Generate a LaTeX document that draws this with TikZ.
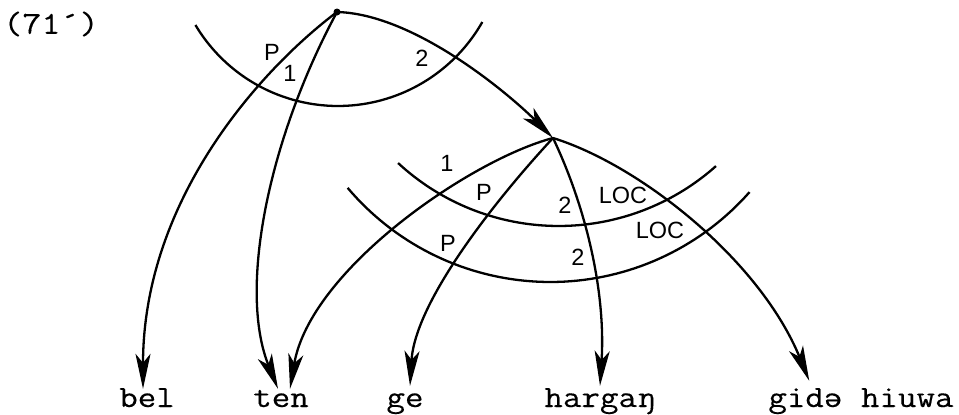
\documentclass[tikz,border=0pt]{standalone}
\usepackage{fontspec}
\setsansfont{Liberation Sans}
\newfontfamily\tw{Latin Modern Mono}[FakeStretch=1.16,FakeBold=0.3]
\usetikzlibrary{arrows.meta,calc}
\begin{document}
\begin{tikzpicture}[x=1pt,y=-1pt,line width=2.3pt,
  arr/.style={-{Stealth[length=35pt,width=15pt,inset=9pt]}},
  lab/.style={font=\sffamily\fontsize{23.5}{23.5}\selectfont,inner sep=0pt},
  word/.style={font=\tw\fontsize{31}{31}\selectfont,inner sep=0pt,anchor=base,text height=17pt,text depth=7pt},
  numlab/.style={font=\tw\fontsize{32}{32}\selectfont,inner sep=0pt}
]
\useasboundingbox (0,0) rectangle (959,415);

% example number
\node[numlab] (num) at (51,24) {(71´)};

% nodes
\node[circle,fill,inner sep=0pt,minimum size=7pt] (n1) at (337,12) {};
\coordinate (n2) at (553,138);

% words
\node[word] (bel) at (147,407) {bel};
\node[word] (ten) at (281,407) {ten};
\node[word] (ge) at (405,407) {ge};
\node[word] (hargan) at (600,407) {hargaŋ};
\node[word] (gida) at (861,407) {gidə hiuwa};

% arcs
\draw plot[domain=29.6:149.2,samples=70] ({338+166*cos(\x)},{-60+166*sin(\x)});
\draw plot[domain=48.3:132.8,samples=70] ({558.7+236.4*cos(\x)},{-10.4+236.4*sin(\x)});
\draw plot[domain=41.4:139.8,samples=70] ({550.4+265.5*cos(\x)},{16.5+265.5*sin(\x)});

% connectors from n1
\draw[arr] (n1.center) .. controls (415,14) and (510,95) .. (n2);
\draw[arr] (n1.center) .. controls (260,70) and (143,200) .. ($(bel.north)+(-4,0)$);
\draw[arr] (n1.center) .. controls (268,140) and (238,290) .. ($(ten.north)+(-3,0)$);

% connectors from n2
\draw[arr] (n2) .. controls (470,160) and (310,270) .. ($(ten.north)+(9,0)$);
\draw[arr] (n2) .. controls (500,195) and (415,300) .. ($(ge.north)+(5,-3)$);
\draw[arr] (n2) .. controls (585,205) and (606,290) .. ($(hargan.north)+(0,-3)$);
\draw[arr] (n2) .. controls (640,165) and (760,260) .. ($(gida.north west)+(42,-8)$);

% labels
\node[lab] (lP1) at (272,52) {P};
\node[lab] (l11) at (290,73) {1};
\node[lab] (l21) at (422,58) {2};
\node[lab] (l12) at (447,163) {1};
\node[lab] (lP2) at (484,192) {P};
\node[lab] (l22) at (565,205) {2};
\node[lab] (lL2) at (623,195) {LOC};
\node[lab] (lP3) at (448,243) {P};
\node[lab] (l23) at (578,257) {2};
\node[lab] (lL3) at (660,230) {LOC};
\end{tikzpicture}
\end{document}
